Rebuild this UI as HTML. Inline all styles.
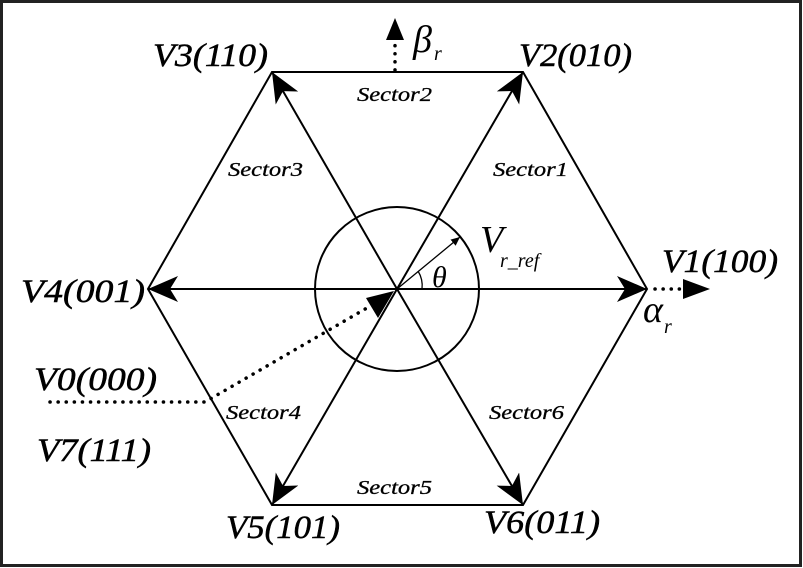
<!DOCTYPE html>
<html><head><meta charset="utf-8"><style>
html,body{margin:0;padding:0;background:#fff}
svg{display:block}
text{font-family:"Liberation Serif",serif;font-style:italic;fill:#000}
.v{font-size:33px;stroke:#000;stroke-width:0.5}
.s{font-size:20px;stroke:#000;stroke-width:0.3}
</style></head><body>
<svg width="803" height="568" viewBox="0 0 803 568" xmlns="http://www.w3.org/2000/svg">
<defs>
<marker id="a" markerWidth="32" markerHeight="26" refX="30" refY="13" orient="auto" markerUnits="userSpaceOnUse">
<path d="M0,0 L30,13 L0,26 L8,13 Z" fill="#000"/>
</marker>
<marker id="c" markerWidth="10" markerHeight="8" refX="9" refY="4" orient="auto" markerUnits="userSpaceOnUse">
<path d="M0,0 L9,4 L0,8 Z" fill="#000"/>
</marker>
</defs>
<rect x="1.5" y="1.5" width="799" height="564" fill="none" stroke="#222" stroke-width="3"/>
<polygon points="647,289 523,72 272,72 148,289 272,505 523,505" fill="none" stroke="#000" stroke-width="2"/>
<g stroke="#000" stroke-width="2" fill="none">
<line x1="397" y1="289" x2="647" y2="289" marker-end="url(#a)"/>
<line x1="397" y1="289" x2="148" y2="289" marker-end="url(#a)"/>
<line x1="397" y1="289" x2="523" y2="72" marker-end="url(#a)"/>
<line x1="397" y1="289" x2="272" y2="72" marker-end="url(#a)"/>
<line x1="397" y1="289" x2="272" y2="505" marker-end="url(#a)"/>
<line x1="397" y1="289" x2="523" y2="505" marker-end="url(#a)"/>
<circle cx="397" cy="289" r="82"/>
<line x1="397" y1="289" x2="460" y2="237" stroke-width="1.3" marker-end="url(#c)"/>
<path d="M418,271 A28,28 0 0 1 422,289" stroke-width="1.3"/>
</g>
<g stroke="#000" stroke-width="3.5" stroke-dasharray="0.1 8" stroke-linecap="round" fill="none">
<polyline points="50,402 205,402 372,305"/>
<line x1="655" y1="289" x2="690" y2="289"/>
<line x1="395" y1="70" x2="395" y2="40"/>
</g>
<path d="M366,298 L394,291 L378,318 Z" fill="#000"/>
<path d="M683,279 L710,289 L683,299 Z" fill="#000"/>
<path d="M386,40 L395,18 L404,40 Z" fill="#000"/>
<text class="v" x="153" y="66" textLength="115" lengthAdjust="spacingAndGlyphs">V3(110)</text>
<text class="v" x="519" y="66" textLength="113" lengthAdjust="spacingAndGlyphs">V2(010)</text>
<text class="v" x="662" y="272" textLength="116" lengthAdjust="spacingAndGlyphs">V1(100)</text>
<text class="v" x="21" y="302" textLength="124" lengthAdjust="spacingAndGlyphs">V4(001)</text>
<text class="v" x="34" y="390" textLength="123" lengthAdjust="spacingAndGlyphs">V0(000)</text>
<text class="v" x="37" y="461" textLength="114" lengthAdjust="spacingAndGlyphs">V7(111)</text>
<text class="v" x="226" y="538" textLength="114" lengthAdjust="spacingAndGlyphs">V5(101)</text>
<text class="v" x="484" y="533" textLength="116" lengthAdjust="spacingAndGlyphs">V6(011)</text>
<text x="413" y="52" font-size="38">β</text>
<text x="434" y="60" font-size="20">r</text>
<text x="643" y="322" font-size="38">α</text>
<text x="664" y="333" font-size="20">r</text>
<text x="480" y="252" font-size="38">V</text>
<text x="500" y="267" font-size="20">r_ref</text>
<text x="432" y="287" font-size="30">θ</text>
<text class="s" x="357" y="101" textLength="75" lengthAdjust="spacingAndGlyphs">Sector2</text>
<text class="s" x="493" y="176" textLength="75" lengthAdjust="spacingAndGlyphs">Sector1</text>
<text class="s" x="228" y="176" textLength="75" lengthAdjust="spacingAndGlyphs">Sector3</text>
<text class="s" x="226" y="419" textLength="75" lengthAdjust="spacingAndGlyphs">Sector4</text>
<text class="s" x="489" y="419" textLength="75" lengthAdjust="spacingAndGlyphs">Sector6</text>
<text class="s" x="357" y="494" textLength="75" lengthAdjust="spacingAndGlyphs">Sector5</text>
</svg>
</body></html>
